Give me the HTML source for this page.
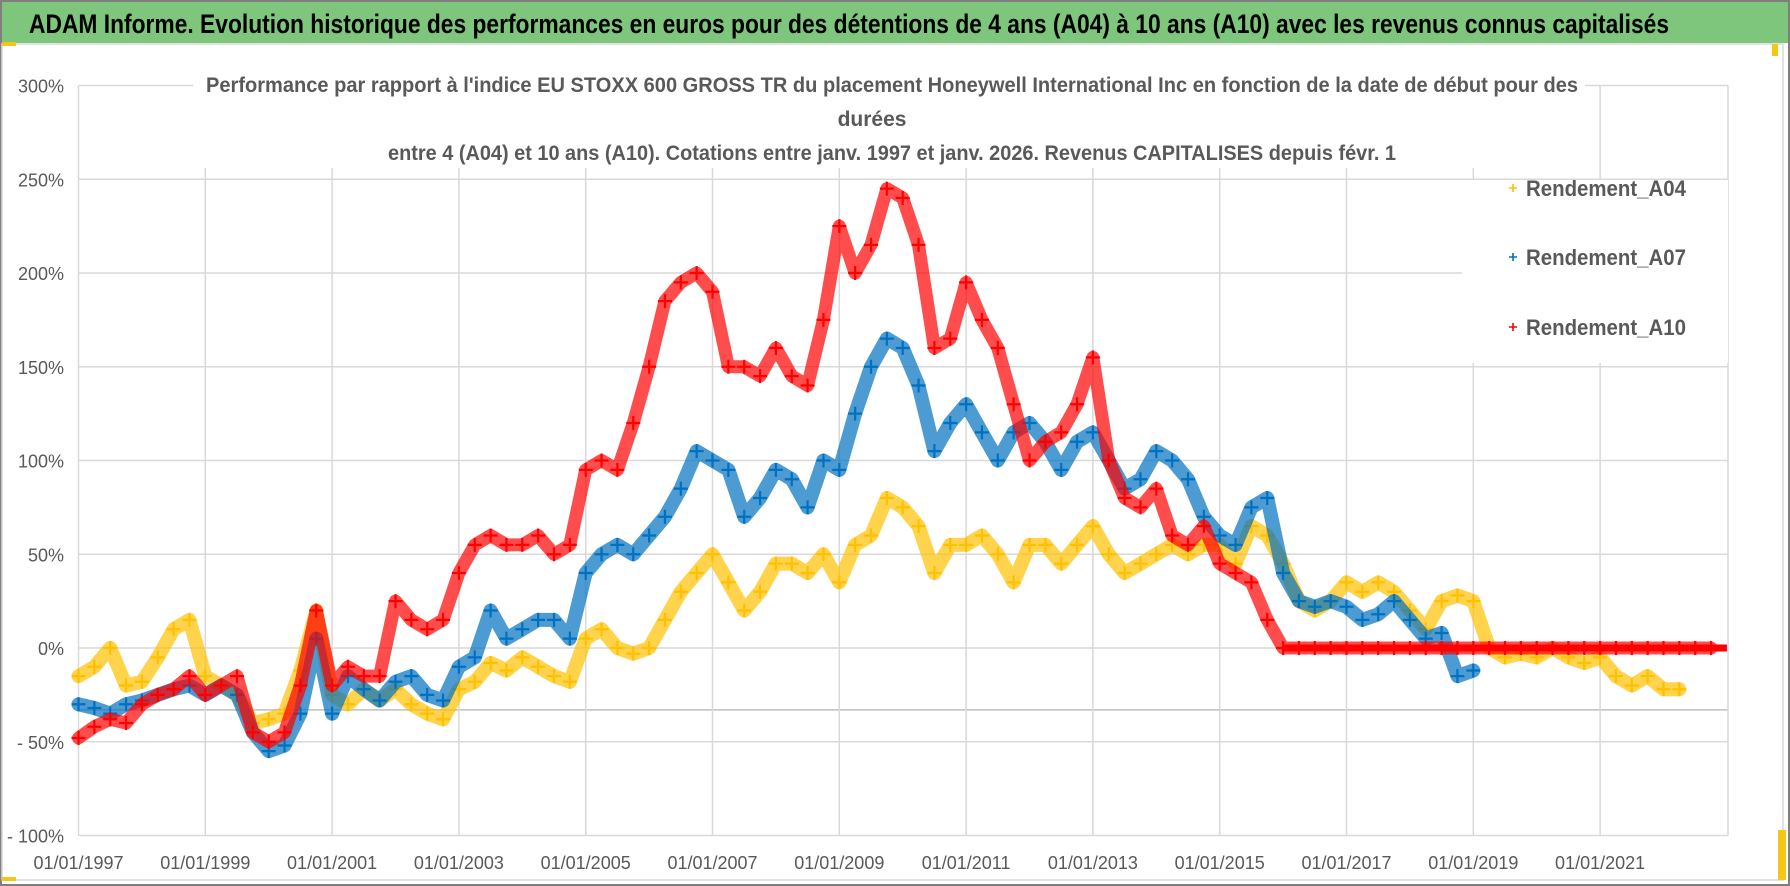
<!DOCTYPE html>
<html><head><meta charset="utf-8">
<style>
html,body{margin:0;padding:0;background:#fff;}
svg{display:block;font-family:"Liberation Sans",sans-serif;}
</style></head>
<body>
<svg id="chart" width="1790" height="886" viewBox="0 0 1790 886">
  <rect x="0" y="0" width="1790" height="886" fill="#fff"/>
  <rect x="1" y="1" width="1788" height="884" fill="none" stroke="#7f7f7f" stroke-width="2"/>
  <rect x="2" y="2" width="1786" height="41" fill="#7dc67b"/>
  <text x="29" y="33" font-size="27" font-weight="bold" fill="#000" textLength="1640" lengthAdjust="spacingAndGlyphs">ADAM Informe. Evolution historique des performances en euros pour des détentions de 4 ans (A04) à 10 ans (A10) avec les revenus connus capitalisés</text>
  <rect x="2" y="44" width="1781" height="836" fill="#fff" stroke="#d9d9d9" stroke-width="1.5"/>
  <rect x="2" y="42" width="14" height="4" fill="#f5c518"/>
  <rect x="1772" y="44" width="6" height="12" fill="#f5c518"/>
  <rect x="1778" y="830" width="8" height="50" fill="#f5c518"/>
  <rect x="2" y="877" width="14" height="4" fill="#f5c518"/>
  <g id="grid"></g>
  <g id="series"></g>
  <rect x="193" y="58" width="1392" height="110" fill="#fff"/>
  <rect x="1462" y="180" width="266" height="183" fill="#fff"/>
  <g fill="#595959" font-weight="bold" font-size="21">
    <text x="206" y="92" textLength="1372" lengthAdjust="spacingAndGlyphs">Performance par rapport à l'indice EU STOXX 600 GROSS TR  du placement Honeywell International Inc en fonction de la date de début pour des</text>
    <text x="872" y="126" text-anchor="middle">durées</text>
    <text x="388" y="160" textLength="1008" lengthAdjust="spacingAndGlyphs">entre 4 (A04) et 10 ans (A10). Cotations entre janv. 1997 et janv. 2026. Revenus CAPITALISES depuis févr. 1</text>
  </g>
  <g id="axes"></g>
  <g id="legend"></g>
</svg>
<script>
const yTicks = [300, 250, 200, 150, 100, 50, 0, -50, -100];
const yTickLabels = ["300%", "250%", "200%", "150%", "100%", "50%", "0%", "- 50%", "- 100%"];
const xTickYears = [1997, 1999, 2001, 2003, 2005, 2007, 2009, 2011, 2013, 2015, 2017, 2019, 2021];
const xTickLabels = ["01/01/1997","01/01/1999","01/01/2001","01/01/2003","01/01/2005","01/01/2007","01/01/2009","01/01/2011","01/01/2013","01/01/2015","01/01/2017","01/01/2019","01/01/2021"];
const refLine = -33;
const seriesNames = ["Rendement_A04", "Rendement_A07", "Rendement_A10"];
const startA04 = 1997.0, startA07 = 1997.0, startA10 = 1997.0;
const stepYears = 0.25;
const a04 = [-15,-10,0,-20,-18,-5,10,15,-15,-20,-25,-40,-38,-35,-12,20,-25,-30,-22,-28,-22,-30,-35,-38,-22,-18,-8,-12,-5,-10,-15,-18,5,10,0,-3,0,15,30,40,50,35,20,30,45,45,40,50,35,55,60,80,75,65,40,55,55,60,50,35,55,55,45,55,65,50,40,45,50,55,50,55,55,45,65,60,45,25,20,25,35,30,35,30,20,10,25,28,25,0,-5,-3,-5,0,-5,-8,-5,-15,-20,-15,-22,-22];
const a07 = [-30,-32,-35,-30,-28,-25,-22,-20,-25,-20,-25,-45,-55,-52,-35,5,-35,-15,-22,-28,-18,-15,-25,-28,-10,-5,20,5,10,15,15,5,40,50,55,50,60,70,85,105,100,95,70,80,95,90,75,100,95,125,150,165,160,140,105,120,130,115,100,115,120,110,95,110,115,100,85,90,105,100,90,70,60,55,75,80,40,25,22,25,22,15,18,25,15,5,8,-15,-12];
const a10 = [-48,-42,-38,-40,-30,-25,-22,-15,-25,-20,-15,-45,-50,-45,-20,20,-20,-10,-15,-15,25,15,10,15,40,55,60,55,55,60,50,55,95,100,95,120,150,185,195,200,190,150,150,145,160,145,140,175,225,200,215,245,240,215,160,165,195,175,160,130,100,110,115,130,155,100,80,75,85,60,55,65,45,40,35,15,0,0,0,0,0,0,0,0,0,0,0,0,0,0,0,0,0,0,0,0,0,0,0,0,0,0,0,0];

const NS = "http://www.w3.org/2000/svg";
const X0 = 78.5, PXY = 63.4, PLOT_R = 1728;
const Y0 = 648, PXP = 93.75 / 50;
function xScale(year){ return X0 + (year - 1997) * PXY; }
function yScale(v){ return Y0 - v * PXP; }
function mk(tag, attrs, parent){ const e = document.createElementNS(NS, tag); for (const k in attrs) e.setAttribute(k, attrs[k]); parent.appendChild(e); return e; }

const grid = document.getElementById('grid');
const axes = document.getElementById('axes');
yTicks.forEach((t, i) => {
  const y = yScale(t);
  const ln = mk('line', {x1: X0, x2: PLOT_R, y1: y, y2: y, stroke: '#d9d9d9', 'stroke-width': 1.5}, grid);
  
  
  const tx = mk('text', {x: 64, y: y + 7, 'text-anchor': 'end', 'font-size': 18, fill: '#595959'}, axes);
  tx.textContent = yTickLabels[i];
  
  
});
const rl = mk('line', {x1: X0, x2: PLOT_R, y1: yScale(refLine), y2: yScale(refLine), stroke: '#bfbfbf', 'stroke-width': 1.5}, grid);


xTickYears.forEach((yr, i) => {
  const x = xScale(yr);
  const ln = mk('line', {x1: x, x2: x, y1: yScale(300), y2: yScale(-100), stroke: '#d9d9d9', 'stroke-width': 1.5}, grid);
  
  
  const tx = mk('text', {x: x, y: 869, 'text-anchor': 'middle', 'font-size': 18, fill: '#595959'}, axes);
  tx.textContent = xTickLabels[i];
  
  
});
const rb = mk('line', {x1: PLOT_R, x2: PLOT_R, y1: yScale(300), y2: yScale(-100), stroke: '#d9d9d9', 'stroke-width': 1.5}, grid);



const layer = document.getElementById('series');
function drawSeries(vals, start, color, name, lw){
  const g = mk('g', {}, layer);
  
  
  const pts = vals.map((v, i) => [xScale(start + i * stepYears), yScale(v)]);
  const pl = mk('polyline', {points: pts.map(p => p[0].toFixed(1) + ',' + p[1].toFixed(1)).join(' '), fill: 'none', stroke: color, 'stroke-width': lw, 'stroke-linejoin': 'round', 'stroke-linecap': 'round', opacity: 0.7}, g);
  
  
  pts.forEach(p => {
    const s = 7;
    const c = mk('path', {d: `M${p[0]-s},${p[1]}H${p[0]+s}M${p[0]},${p[1]-s}V${p[1]+s}`, stroke: color, 'stroke-width': 2.2}, g);
    
    
  });
}
drawSeries(a04, startA04, '#ffc000', 'series-a04', 14);
drawSeries(a07, startA07, '#0070c0', 'series-a07', 14);
drawSeries(a10, startA10, '#ff0000', 'series-a10', 13);
const zl = mk('line', {x1: xScale(2016), x2: xScale(2023), y1: yScale(0), y2: yScale(0), stroke: '#ff0000', 'stroke-width': 7}, layer);



const legend = document.getElementById('legend');
const legColors = ['#ffc000', '#0070c0', '#ff0000'];
const legY = [188, 257, 327];
seriesNames.forEach((n, i) => {
  const y = legY[i];
  const m = mk('path', {d: `M1509,${y}h8M1513,${y-4}v8`, stroke: legColors[i], 'stroke-width': 1.6}, legend);
  
  
  const t = mk('text', {x: 1526, y: y + 8, 'font-size': 22, 'font-weight': 'bold', fill: '#595959', textLength: 160, lengthAdjust: 'spacingAndGlyphs'}, legend);
  t.textContent = n;
  
  
});
</script>
</body></html>
